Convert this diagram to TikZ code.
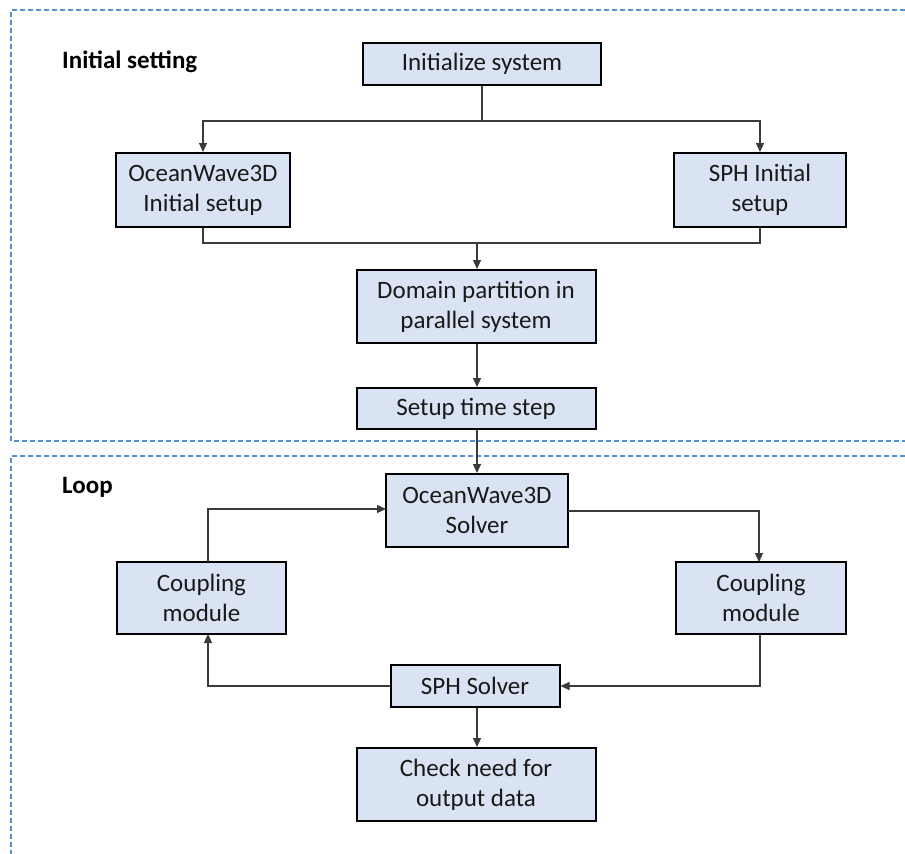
\documentclass[tikz,border=0pt]{standalone}
\usepackage{fontspec}
\setmainfont{Carlito}
\usetikzlibrary{arrows.meta}
\definecolor{boxfill}{HTML}{DAE3F3}
\definecolor{dashblue}{HTML}{5B8FC7}
\definecolor{connc}{HTML}{3A3A3A}
\tikzset{
  stepbox/.style={draw=black, line width=2pt, fill=boxfill, align=center,
    inner sep=0pt, font=\fontsize{25}{30}\selectfont, text=black!90},
  conn/.style={draw=connc, line width=1.1pt},
  arr/.style={conn, -{Triangle[length=9pt,width=8pt]}},
  dashbox/.style={draw=dashblue, line width=1.3pt, dash pattern=on 5pt off 3pt},
  seclabel/.style={anchor=west, font=\fontsize{25}{30}\selectfont\bfseries, text=black, inner sep=0pt}
}
\begin{document}
\begin{tikzpicture}[x=1pt, y={(0pt,-1pt)}]
\useasboundingbox (0,0) rectangle (905,854);
% dashed frames
\draw[dashbox] (905,10) -- (11,10) -- (11,441) -- (905,441);
\draw[dashbox] (905,456) -- (11,456) -- (11,854);
% section labels
\node[seclabel] (lblinit) at (62,62) {Initial setting};
\node[seclabel] (lblloop) at (62,487) {Loop};
% nodes
\node[stepbox, minimum width=238pt, minimum height=42pt] (init) at (482,64) {Initialize system};
\node[stepbox, minimum width=174pt, minimum height=74pt] (owinit) at (203,190) {OceanWave3D\\Initial setup};
\node[stepbox, minimum width=172pt, minimum height=74pt] (sphinit) at (760,190) {SPH Initial\\setup};
\node[stepbox, minimum width=239pt, minimum height=73pt] (domain) at (476,306.5) {Domain partition in\\parallel system};
\node[stepbox, minimum width=239pt, minimum height=41pt] (setup) at (476,408.5) {Setup time step};
\node[stepbox, minimum width=182pt, minimum height=73pt] (owsolver) at (477,510.5) {OceanWave3D\\Solver};
\node[stepbox, minimum width=169pt, minimum height=72pt] (cpl) at (201.5,598) {Coupling\\module};
\node[stepbox, minimum width=170pt, minimum height=72pt] (cpr) at (761,598) {Coupling\\module};
\node[stepbox, minimum width=169pt, minimum height=42pt] (sph) at (475,686) {SPH Solver};
\node[stepbox, minimum width=239pt, minimum height=73pt] (check) at (476,784.5) {Check need for\\output data};
% junctions
\coordinate (j1) at (482,121);
\coordinate (m1) at (477,243);
\coordinate (cpltop) at (208,562);
\coordinate (cplbot) at (208,634);
\coordinate (owl) at (386,509);
\coordinate (owr) at (568,511);
\coordinate (cprtop) at (759,562);
\coordinate (cprbot) at (760,634);
% connectors
\draw[conn] (init.south -| j1) -- (j1);
\draw[arr] (j1) -| (owinit.north);
\draw[arr] (j1) -| (sphinit.north);
\draw[conn] (owinit.south) |- (m1);
\draw[conn] (sphinit.south) |- (m1);
\draw[arr] (m1) -- (m1 |- domain.north);
\draw[arr] (domain.south -| m1) -- (m1 |- setup.north);
\draw[arr] (setup.south -| m1) -- (m1 |- owsolver.north);
\draw[arr] (cpltop) |- (owl);
\draw[arr] (owr) -| (cprtop);
\draw[arr] (cprbot) |- (sph.east);
\draw[arr] (sph.west) -| (cplbot);
\draw[arr] (sph.south -| m1) -- (m1 |- check.north);
\end{tikzpicture}
\end{document}
